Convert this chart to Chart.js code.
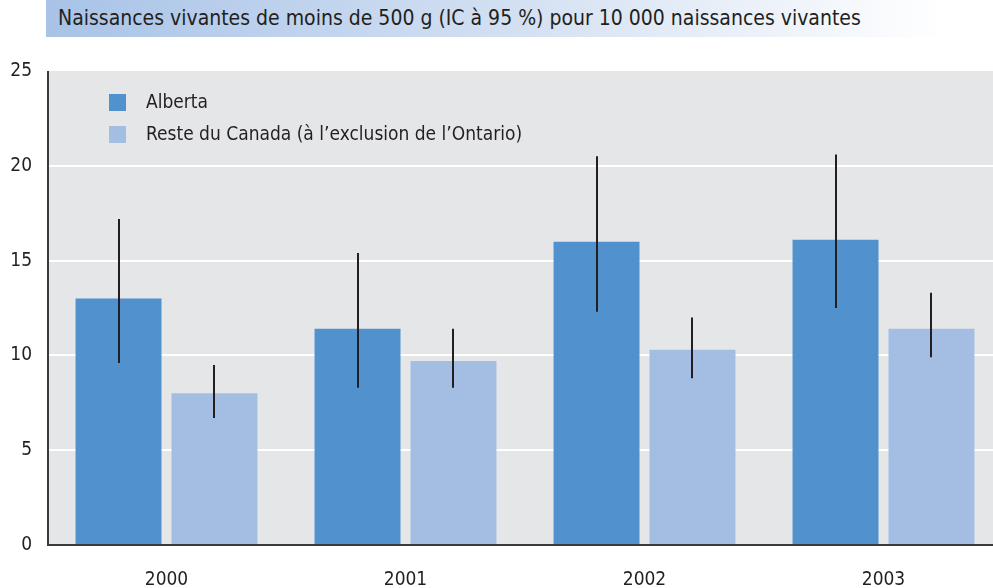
<!DOCTYPE html>
<html>
<head>
<meta charset="utf-8">
<script src="https://cdn.jsdelivr.net/npm/chart.js@4"></script>
<style>
  html, body { margin: 0; padding: 0; background: #fff; overflow: hidden; }
  #wrap { position: relative; width: 993px; height: 588px; overflow: hidden; }
  #title {
    position: absolute; left: 46px; top: 0; width: 900px; height: 37px;
    background: linear-gradient(to right, #a8c3e7 0%, #d6e2f3 55%, #ffffff 100%);
    font-family: "Liberation Sans Narrow", "DejaVu Sans Condensed", sans-serif;
    font-size: 21px; color: #231f20; line-height: 37px; padding-left: 12px; box-sizing: border-box;
  }
  canvas { position: absolute; left: 0; top: 0; }
</style>
</head>
<body>
<div id="wrap">
  <div id="title">Naissances vivantes de moins de 500 g (IC à 95 %) pour 10 000 naissances vivantes</div>
  <canvas id="bar-chart" width="1003" height="588"></canvas>
</div>
<script>
  // Data
  const years = ["2000", "2001", "2002", "2003"];
  const albertaRates = [13.0, 11.4, 16.0, 16.1];
  const albertaLow = [9.6, 8.3, 12.3, 12.5];
  const albertaHigh = [17.2, 15.4, 20.5, 20.6];
  const resteRates = [8.0, 9.7, 10.3, 11.4];
  const resteLow = [6.7, 8.3, 8.8, 9.9];
  const resteHigh = [9.5, 11.4, 12.0, 13.3];
  const yTicks = [0, 5, 10, 15, 20, 25];

  const fontFamily = '"Liberation Sans Narrow", "DejaVu Sans Condensed", sans-serif';
  const textColor = "#231f20";

  // grey plot background
  const plotBackground = {
    id: "plotBackground",
    beforeDraw(chart) {
      const a = chart.chartArea, ctx = chart.ctx;
      ctx.save();
      ctx.fillStyle = "#e5e6e8";
      ctx.fillRect(a.left, a.top, a.right - a.left, a.bottom - a.top);
      ctx.restore();
    }
  };

  // confidence interval lines
  const errorBars = {
    id: "errorBars",
    afterDatasetsDraw(chart) {
      const ctx = chart.ctx, y = chart.scales.y;
      ctx.save();
      ctx.strokeStyle = textColor;
      ctx.lineWidth = 2;
      chart.data.datasets.forEach((ds, i) => {
        chart.getDatasetMeta(i).data.forEach((bar, j) => {
          ctx.beginPath();
          ctx.moveTo(Math.round(bar.x), y.getPixelForValue(ds.low[j]));
          ctx.lineTo(Math.round(bar.x), y.getPixelForValue(ds.high[j]));
          ctx.stroke();
        });
      });
      // axis lines
      const a = chart.chartArea;
      ctx.strokeStyle = "#3a3a3a";
      ctx.beginPath();
      ctx.moveTo(a.left + 1, a.top);
      ctx.lineTo(a.left + 1, a.bottom);
      ctx.lineTo(a.right, a.bottom);
      ctx.stroke();
      ctx.restore();
    }
  };

  // legend inside the plot
  const innerLegend = {
    id: "innerLegend",
    afterDraw(chart) {
      const ctx = chart.ctx;
      ctx.save();
      ctx.font = "19px " + fontFamily;
      ctx.textBaseline = "middle";
      chart.data.datasets.forEach((ds, i) => {
        const top = 94 + i * 32;
        ctx.fillStyle = ds.backgroundColor;
        ctx.fillRect(109, top, 17, 17);
        ctx.fillStyle = textColor;
        ctx.fillText(ds.label, 146, top + 9);
      });
      ctx.restore();
    }
  };

  new Chart(document.getElementById("bar-chart"), {
    type: "bar",
    data: {
      labels: years,
      datasets: [
        {
          label: "Alberta",
          data: albertaRates,
          low: albertaLow,
          high: albertaHigh,
          backgroundColor: "#5192ce",
          categoryPercentage: 0.803,
          barPercentage: 0.896
        },
        {
          label: "Reste du Canada (à l’exclusion de l’Ontario)",
          data: resteRates,
          low: resteLow,
          high: resteHigh,
          backgroundColor: "#a4bee3",
          categoryPercentage: 0.803,
          barPercentage: 0.896
        }
      ]
    },
    options: {
      responsive: false,
      animation: false,
      layout: { padding: { top: 71, left: 0, right: 0, bottom: 0 } },
      plugins: {
        legend: { display: false },
        tooltip: { enabled: false }
      },
      scales: {
        x: {
          grid: { display: false, drawTicks: false },
          border: { display: false },
          ticks: { color: textColor, font: { family: fontFamily, size: 19 }, padding: 24 },
          afterFit(scale) { scale.height = 43; }
        },
        y: {
          min: 0,
          max: 25,
          afterBuildTicks(scale) { scale.ticks = yTicks.map(v => ({ value: v })); },
          grid: {
            color: ctx => (ctx.tick && ctx.tick.value > 0 && ctx.tick.value < 25) ? "#ffffff" : "rgba(0,0,0,0)",
            lineWidth: 2,
            drawTicks: false
          },
          border: { display: false },
          ticks: { color: textColor, font: { family: fontFamily, size: 19 }, padding: 15 },
          afterFit(scale) { scale.width = 47; }
        }
      }
    },
    plugins: [plotBackground, errorBars, innerLegend]
  });
</script>
</body>
</html>
